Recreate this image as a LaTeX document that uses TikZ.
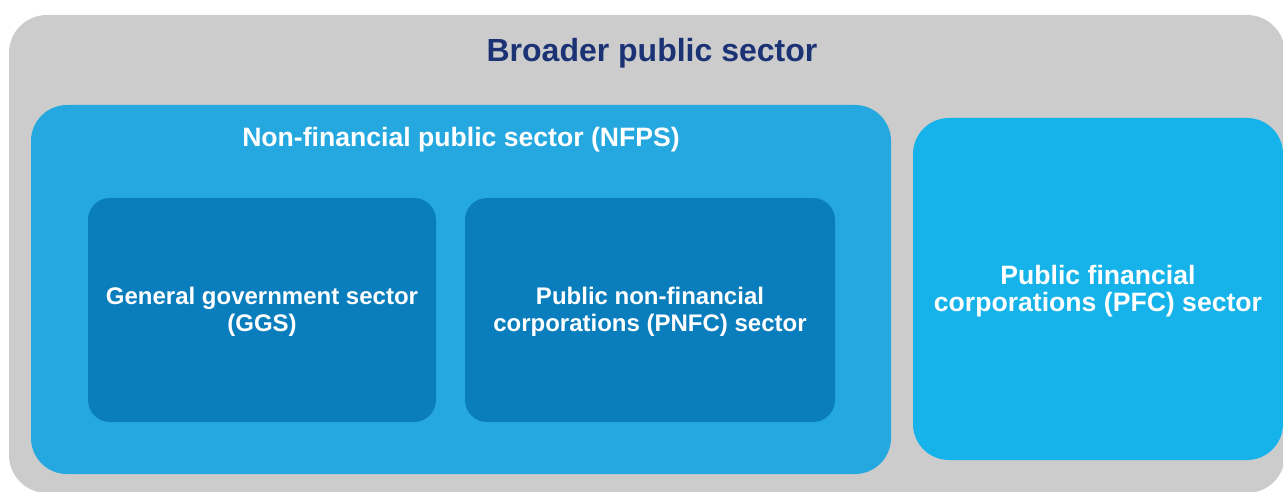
\documentclass[tikz,border=0pt]{standalone}
\usepackage{fontspec}
\setmainfont{Liberation Sans}
\definecolor{bpsgray}{HTML}{CCCCCC}
\definecolor{nfpsblue}{HTML}{25A8E0}
\definecolor{pfcblue}{HTML}{15B3EA}
\definecolor{innerblue}{HTML}{0A7DBD}
\definecolor{titlenavy}{HTML}{1B3275}
\tikzset{
  sectorbox/.style={rounded corners=#1, inner sep=0pt, align=center, text=white,
    font=\fontsize{24}{27}\selectfont\bfseries},
  sectorbox/.default=22pt,
  headline/.style={inner sep=0pt, font=\fontsize{#1}{#1}\selectfont\bfseries},
}
\begin{document}
\begin{tikzpicture}[x=1pt, y=-1pt]
\useasboundingbox (0,0) rectangle (1283,492);
\clip (0,0) rectangle (1283,492);
% outer sector
\node [sectorbox=38pt, fill=bpsgray, minimum width=1276pt, minimum height=478pt] (bps) at (647,254) {};
\node [headline=32, text=titlenavy] (bpstitle) at (652,53) {Broader public sector};
% non-financial public sector
\node [sectorbox=36pt, fill=nfpsblue, minimum width=860pt, minimum height=369pt] (nfps) at (461,289.5) {};
\node [headline=26.6, text=white] (nfpstitle) at (461,140) {Non-financial public sector (NFPS)};
\node [sectorbox, fill=innerblue, minimum width=348pt, minimum height=224pt] (ggs) at (262,310) {};
\node [sectorbox, fill=innerblue, minimum width=370pt, minimum height=224pt] (pnfc) at (650,310) {};
\node [sectorbox] (ggstext) at (262,312) {General government sector\\(GGS)};
\node [sectorbox] (pnfctext) at (650,312) {Public non-financial\\corporations (PNFC) sector};
% financial corporations
\node [sectorbox=36pt, fill=pfcblue, minimum width=370pt, minimum height=342pt] (pfc) at (1098,289) {};
\node [sectorbox, font=\fontsize{26.6}{27}\selectfont\bfseries] (pfctext) at (1098,291) {Public financial\\corporations (PFC) sector};
\end{tikzpicture}
\end{document}
